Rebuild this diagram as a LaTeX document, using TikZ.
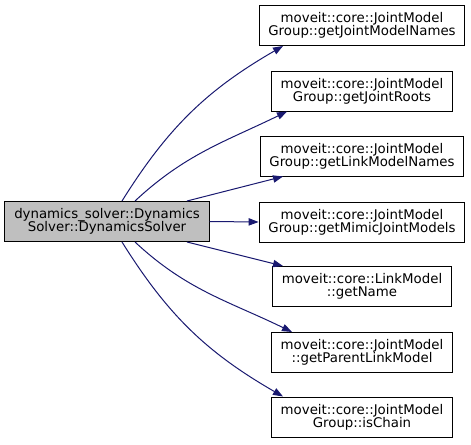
\documentclass[tikz,border=0pt]{standalone}
\usepackage{fontspec}
\setmainfont{DejaVu Sans}
\usetikzlibrary{arrows.meta}

\definecolor{edgeblue}{HTML}{191970}
\definecolor{rootgray}{HTML}{BFBFBF}

\begin{document}
\begin{tikzpicture}[x=0.75pt,y=0.75pt,fn/.style={draw=black,line width=0.75pt,fill=white,align=center,font=\fontsize{10pt}{10pt}\selectfont,inner xsep=7pt,inner ysep=2pt,minimum height=30pt},root/.style={fn,fill=rootgray},call/.style={draw=edgeblue,line width=0.75pt,-{Triangle[length=7.5pt,width=5.5pt]}}]
\useasboundingbox (0,0) rectangle (471,444);
\node[root] (ds) at (107,222.5) {dynamics\_solver::Dynamics\\Solver::DynamicsSolver};
\node[fn] (f1) at (362,418.5) {moveit::core::JointModel\\Group::getJointModelNames};
\node[fn] (f2) at (362,353) {moveit::core::JointModel\\Group::getJointRoots};
\node[fn] (f3) at (362,288) {moveit::core::JointModel\\Group::getLinkModelNames};
\node[fn] (f4) at (362,222) {moveit::core::JointModel\\Group::getMimicJointModels};
\node[fn] (f5) at (362,157.5) {moveit::core::LinkModel\\::getName};
\node[fn] (f6) at (362,91.5) {moveit::core::JointModel\\::getParentLinkModel};
\node[fn] (f7) at (362,27) {moveit::core::JointModel\\Group::isChain};
\draw[call] ([xshift=11.25pt]ds.north) to[out=58,in=-150] ([xshift=-59.25pt]f1.south);
\draw[call] ([xshift=21pt]ds.north) to[out=43,in=-154] ([xshift=-56.25pt]f2.south);
\draw[call] ([xshift=60pt]ds.north) -- ([xshift=-59.25pt]f3.south);
\draw[call] (ds.east) -- (f4.west);
\draw[call] ([xshift=60pt]ds.south) -- ([xshift=-59.25pt]f5.north);
\draw[call] ([xshift=21pt]ds.south) to[out=-43,in=154] ([xshift=-52.5pt]f6.north);
\draw[call] ([xshift=11.25pt]ds.south) to[out=-58,in=150] ([xshift=-59.25pt]f7.north);
\end{tikzpicture}
\end{document}
